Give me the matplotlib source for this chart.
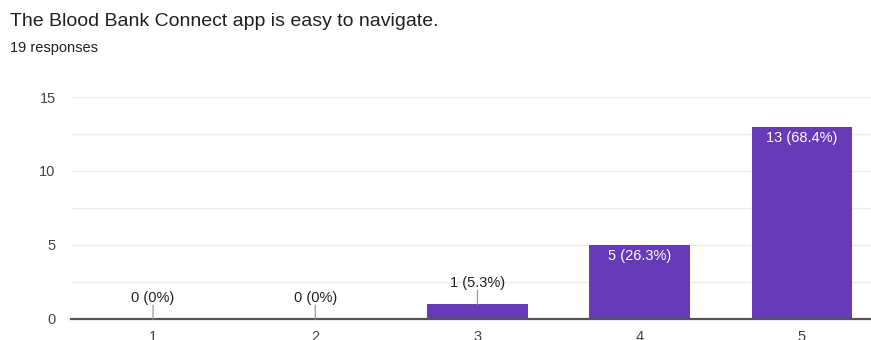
import matplotlib.pyplot as plt

# survey answers: rating -> number of responses
ratings = ['1', '2', '3', '4', '5']
counts = [0, 0, 1, 5, 13]
percents = ['0%', '0%', '5.3%', '26.3%', '68.4%']
y_ticks = [0, 5, 10, 15]

title = 'The Blood Bank Connect app is easy to navigate.'
subtitle = '19 responses'

plt.rcParams['font.family'] = ['Liberation Sans', 'DejaVu Sans']

fig = plt.figure(figsize=(8.71, 3.40), dpi=100)
ax = fig.add_axes([71 / 871, 21 / 340, 1 - 71 / 871, 222 / 340])

x = list(range(1, len(ratings) + 1))
ax.bar(x, counts, width=0.62, color='#673ab7', zorder=3)

ax.set_xlim(0.494, 5.426)
ax.set_ylim(0, 15)
ax.set_yticks(y_ticks)
ax.set_yticks([2.5, 7.5, 12.5], minor=True)
ax.grid(axis='y', which='both', color='#ececec', linewidth=1, zorder=0)
ax.set_xticks(x)
ax.set_xticklabels(ratings)
ax.tick_params(axis='both', which='both', length=0, labelsize=10.5, colors='#444444')
ax.tick_params(axis='y', pad=11)
ax.tick_params(axis='x', pad=8)
for s in ['top', 'right', 'left']:
    ax.spines[s].set_visible(False)
ax.spines['bottom'].set_color('#555555')
ax.spines['bottom'].set_linewidth(1.6)
ax.spines['bottom'].set_zorder(4)

# value labels: inside tall bars, above short ones with a small leader line
for xi, c, p in zip(x, counts, percents):
    label = f'{c} ({p})'
    if c >= 3:
        ax.annotate(label, (xi, c), xytext=(0, -3), textcoords='offset points',
                    ha='center', va='top', color='white', fontsize=10.5, zorder=5)
    else:
        ax.annotate(label, (xi, c), xytext=(0, 10), textcoords='offset points',
                    ha='center', va='bottom', color='#222222', fontsize=10.5, zorder=5)
        ax.annotate('', (xi, c), xytext=(0, 10), textcoords='offset points',
                    arrowprops=dict(arrowstyle='-', color='#999999', lw=0.9,
                                    shrinkA=0, shrinkB=0), zorder=5)

fig.text(10 / 871, 1 - 22 / 340, title, fontsize=14, color='#202124', va='center')
fig.text(10 / 871, 1 - 48 / 340, subtitle, fontsize=10.5, color='#202124', va='center')

fig.savefig('out.png', dpi=100)
